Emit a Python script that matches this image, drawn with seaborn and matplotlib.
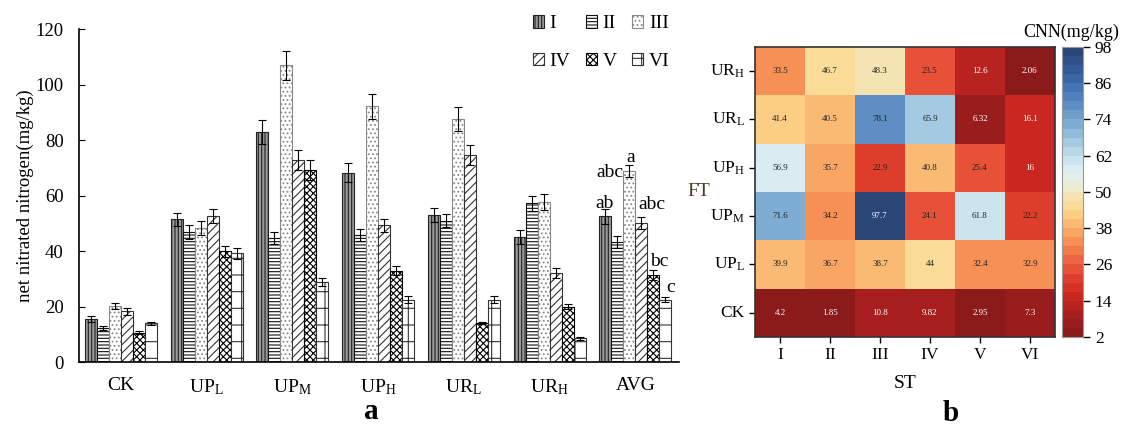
import numpy as np
import pandas as pd
import matplotlib
matplotlib.use("Agg")
import matplotlib.pyplot as plt
import seaborn as sns
from matplotlib.colors import LinearSegmentedColormap
from matplotlib.patches import Patch

# ---------------- data ----------------
groups = ["CK", r"UP$_{\mathrm{L}}$", r"UP$_{\mathrm{M}}$", r"UP$_{\mathrm{H}}$",
          r"UR$_{\mathrm{L}}$", r"UR$_{\mathrm{H}}$", "AVG"]
series = ["I", "II", "III", "IV", "V", "VI"]

val_I   = [15.5, 51.5, 83.0, 68.3, 53.0, 45.0, 52.5]
val_II  = [12.3, 47.0, 44.7, 45.8, 51.0, 57.2, 43.3]
val_III = [20.2, 48.2, 107.0, 92.3, 87.5, 57.7, 68.8]
val_IV  = [18.3, 52.8, 72.8, 49.3, 74.6, 32.0, 50.2]
val_V   = [10.6, 40.0, 69.3, 33.0, 14.2, 20.0, 31.5]
val_VI  = [14.0, 39.3, 28.8, 22.5, 22.5, 8.5, 22.5]

err_I   = [1.0, 2.4, 4.3, 3.3, 2.5, 2.5, 2.6]
err_II  = [0.8, 2.5, 2.2, 2.0, 2.3, 2.8, 2.0]
err_III = [1.2, 2.5, 5.3, 4.5, 4.3, 2.8, 2.2]
err_IV  = [1.2, 2.5, 3.5, 2.3, 3.5, 1.8, 2.2]
err_V   = [0.5, 2.0, 3.5, 1.5, 0.4, 1.0, 1.8]
err_VI  = [0.5, 2.0, 1.4, 1.2, 1.2, 0.4, 1.0]

avg_letters = ["ab", "abc", "a", "abc", "bc", "c"]

ft_rows = [r"UR$_{\mathrm{H}}$", r"UR$_{\mathrm{L}}$", r"UP$_{\mathrm{H}}$",
           r"UP$_{\mathrm{M}}$", r"UP$_{\mathrm{L}}$", "CK"]
st_cols = ["I", "II", "III", "IV", "V", "VI"]
cnn_URH = [33.5, 46.7, 48.3, 23.5, 12.6, 2.06]
cnn_URL = [41.4, 40.5, 78.1, 65.9, 6.32, 16.1]
cnn_UPH = [56.9, 35.7, 22.9, 40.8, 25.4, 16]
cnn_UPM = [71.6, 34.2, 97.7, 24.1, 61.8, 22.2]
cnn_UPL = [39.9, 36.7, 38.7, 44, 32.4, 32.9]
cnn_CK  = [4.2, 1.85, 10.8, 9.82, 2.95, 7.3]

# ---------------- style ----------------
plt.rcParams["font.family"] = ["Liberation Serif", "DejaVu Serif"]
plt.rcParams["mathtext.fontset"] = "custom"
plt.rcParams["mathtext.rm"] = "Liberation Serif"
plt.rcParams["mathtext.it"] = "Liberation Serif:italic"
plt.rcParams["hatch.linewidth"] = 0.8

fig = plt.figure(figsize=(11.26, 4.29), dpi=100)

# ---------------- panel a ----------------
ax = fig.add_axes([0.070, 0.156, 0.533, 0.776])
vals = [val_I, val_II, val_III, val_IV, val_V, val_VI]
errs = [err_I, err_II, err_III, err_IV, err_V, err_VI]
df = pd.DataFrame({
    "group": np.tile(groups, len(series)),
    "series": np.repeat(series, len(groups)),
    "value": np.concatenate(vals),
})
sns.barplot(data=df, x="group", y="value", hue="series", order=groups,
            hue_order=series, errorbar=None, ax=ax, width=0.84,
            legend=False, saturation=1)

hatches = ["|||||", "-----", "....", "////", "xxxxx", "+"]
faces = ["#9a9a9a", "white", "white", "white", "white", "white"]
hedges = ["#222222", "#111111", "#888888", "#333333", "#000000", "#333333"]
bar_conts = list(ax.containers)
for i, cont in enumerate(bar_conts):
    xs, ys = [], []
    for p in cont.patches:
        p.set_facecolor(faces[i])
        p.set_edgecolor(hedges[i])
        p.set_hatch(hatches[i])
        p.set_linewidth(0.8)
        xs.append(p.get_x() + p.get_width() / 2)
        ys.append(p.get_height())
    ax.errorbar(xs, ys, yerr=errs[i], fmt="none", ecolor="black",
                elinewidth=0.8, capsize=3, capthick=0.8)

# significance letters for AVG
last = [cont.patches[-1] for cont in bar_conts]
ctr = [p.get_x() + p.get_width() / 2 for p in last]
letter_pos = [(ctr[0] - 0.01, 55.5), (ctr[0] + 0.06, 66.7), (ctr[2] + 0.02, 72.0),
              (ctr[3] + 0.13, 55.0), (ctr[4] + 0.07, 34.6), (ctr[5] + 0.06, 25.2)]
for lab, (lx, ly) in zip(avg_letters, letter_pos):
    ax.text(lx, ly, lab, ha="center", va="baseline", fontsize=14)

ax.set_xlim(-0.49, 6.51)
ax.set_ylim(0, 120)
ax.set_yticks(np.arange(0, 121, 20))
ax.spines["top"].set_visible(False)
ax.spines["right"].set_visible(False)
ax.spines["left"].set_linewidth(1.2)
ax.spines["bottom"].set_linewidth(1.2)
ax.tick_params(axis="x", length=0, labelsize=14, pad=11)
ax.tick_params(axis="y", direction="in", length=4, labelsize=13.5, pad=11)
ax.set_xlabel("")
ax.set_ylabel("net nitrated nitrogen(mg/kg)", fontsize=13.5, labelpad=1)

handles = [Patch(facecolor=faces[i], edgecolor=hedges[i], hatch=hatches[i],
                 linewidth=0.8, label=series[i]) for i in range(6)]
order = [0, 3, 1, 4, 2, 5]
fig.legend([handles[k] for k in order], [series[k] for k in order], ncol=3,
           loc="upper left", bbox_to_anchor=(0.458, 1.005), frameon=False,
           fontsize=14, handlelength=0.55, handleheight=0.6,
           handletextpad=0.3, columnspacing=0.8, labelspacing=1.05)

fig.text(0.330, 0.040, "a", fontsize=21, fontweight="bold", ha="center", va="center")

# ---------------- panel b ----------------
axh = fig.add_axes([0.6705, 0.2145, 0.2664, 0.676])
cax = fig.add_axes([0.9432, 0.2145, 0.0186, 0.676])
mat = pd.DataFrame([cnn_URH, cnn_URL, cnn_UPH, cnn_UPM, cnn_UPL, cnn_CK],
                   index=ft_rows, columns=st_cols)
stops = [2, 8, 14, 20, 26, 32, 38, 44, 50, 56, 62, 68, 74, 80, 86, 92, 98]
cols = ["#8b1a1a", "#a51f1e", "#c9261f", "#dd3a2a", "#eb5f3f", "#f5894f",
        "#fbb36e", "#fdd98c", "#f1e8c0", "#e2f0f3", "#c5e1ec", "#9cc5df",
        "#79a9d1", "#5b8bc2", "#4272b0", "#335b96", "#2a4677"]
cmap = LinearSegmentedColormap.from_list(
    "cnn", [((s - 2) / 96, c) for s, c in zip(stops, cols)], N=32)
sns.heatmap(mat, ax=axh, cbar_ax=cax, cmap=cmap, vmin=2, vmax=98,
            annot=True, fmt="g", annot_kws={"fontsize": 6.5}, linewidths=0)
flat = mat.values.ravel()
for t, v in zip(axh.texts, flat):
    t.set_color("white" if (v < 20 or v > 90) else "#222222")
for s in axh.spines.values():
    s.set_visible(True)
    s.set_linewidth(1.2)
    s.set_color("#333333")
axh.tick_params(axis="both", length=4, labelsize=12.5, width=1)
axh.set_yticklabels(ft_rows, rotation=0)
axh.set_xticklabels(st_cols, rotation=0)
axh.set_xlabel("ST", fontsize=14, labelpad=8)
axh.set_ylabel("FT", fontsize=14, rotation=0, labelpad=8, va="center",
               color="#4a3a2a")

cax.set_yticks(np.arange(2, 99, 12))
cax.tick_params(labelsize=12.5, length=5, width=1)
for s in cax.spines.values():
    s.set_visible(True)
    s.set_color("#999999")
fig.text(0.951, 0.925, "CNN(mg/kg)", fontsize=13, ha="center", va="center")

fig.text(0.844, 0.035, "b", fontsize=21, fontweight="bold", ha="center", va="center")

fig.savefig("out.png", dpi=100)
